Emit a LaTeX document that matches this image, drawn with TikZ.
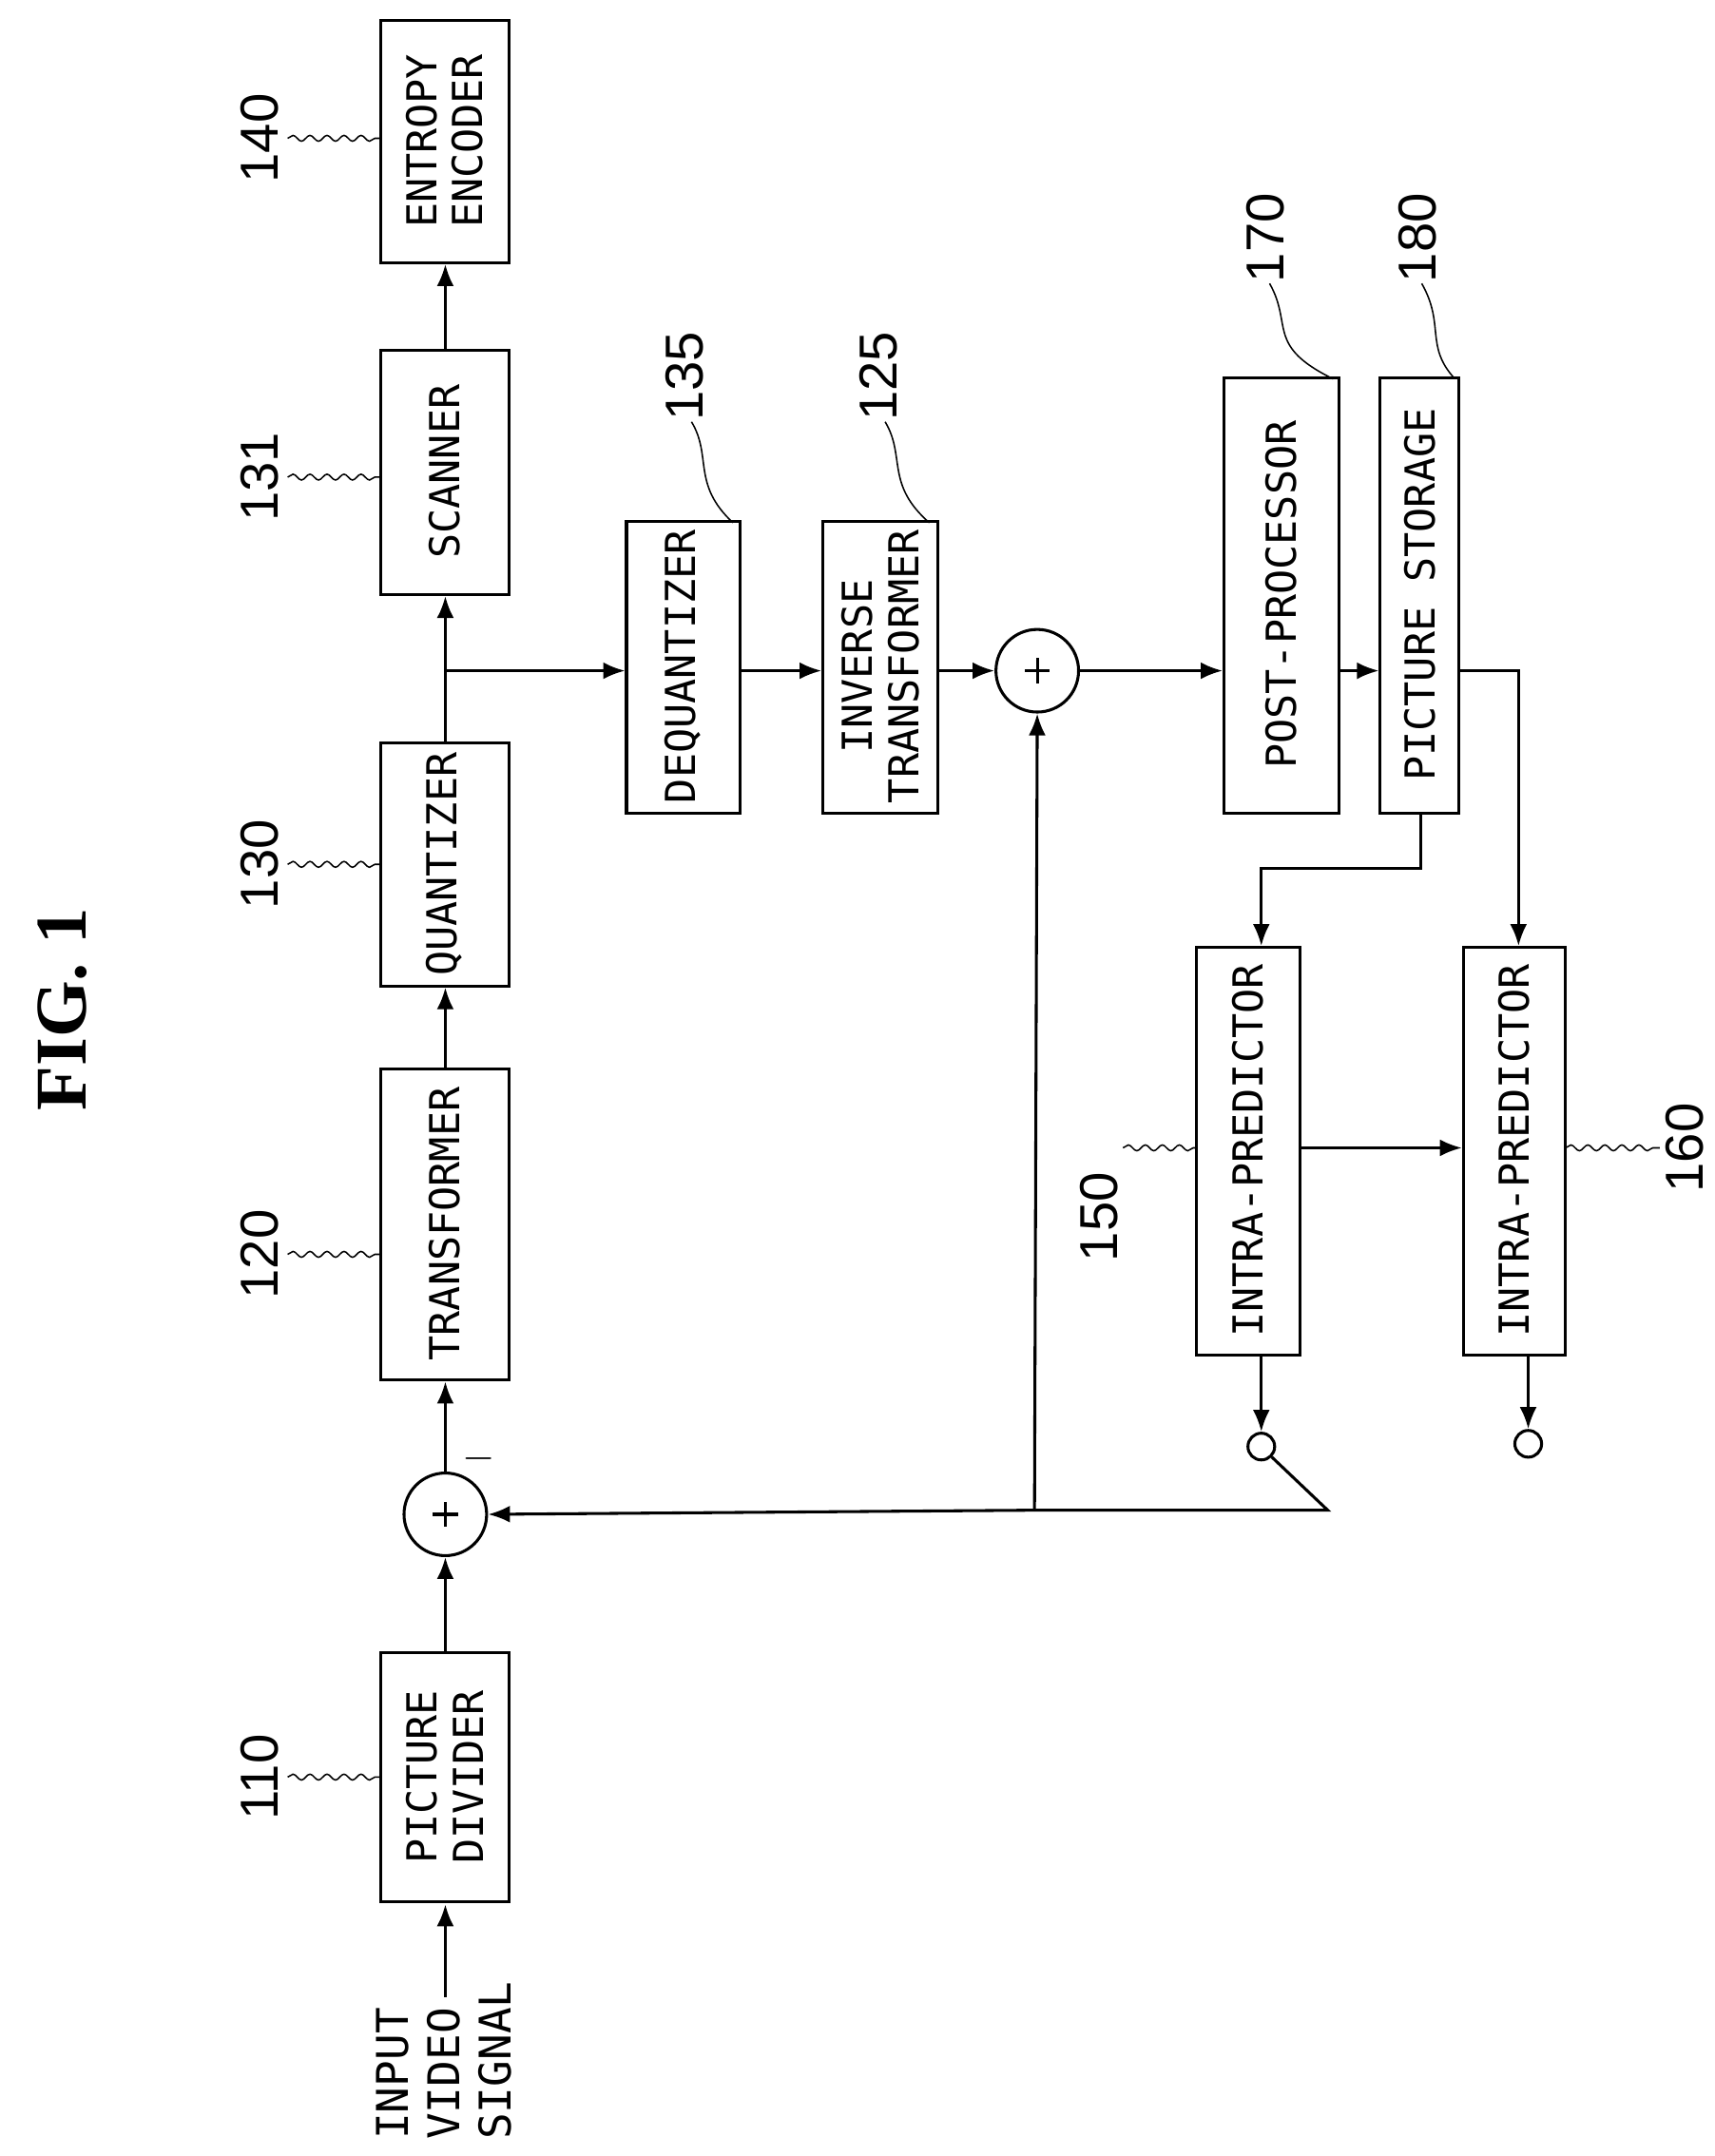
\documentclass[tikz,border=0pt]{standalone}
\usepackage{fontspec}
\setmainfont{DejaVu Sans Mono}
\newfontfamily\numfont{Liberation Sans}
\newfontfamily\figfont{Liberation Serif}
\usetikzlibrary{arrows.meta,decorations.pathmorphing}
\begin{document}
\begin{tikzpicture}[x=0.02cm,y=-0.02cm,line width=1.2pt,
 lab/.style={font=\fontsize{17}{19}\selectfont,rotate=90,align=center},
 num/.style={font=\numfont\fontsize{22}{24}\selectfont,rotate=90},
 ar/.style={-{Latex[length=9pt,width=7pt]}},
 lead/.style={line width=0.6pt,decorate,decoration={snake,amplitude=1.2pt,segment length=7pt}},
 curv/.style={line width=0.6pt}]
\useasboundingbox (0,0) rectangle (1240,1559);
\node[font=\figfont\bfseries\fontsize{30}{32}\selectfont,rotate=90] (fig) at (45,730) {FIG. 1};
% boxes
\draw (275,1195) rectangle (368,1375); \node[lab] (b110) at (321.5,1285) {PICTURE\\DIVIDER};
\draw (275,773) rectangle (368,998); \node[lab] (b120) at (321.5,885) {TRANSFORMER};
\draw (275,537) rectangle (368,713); \node[lab] (b130) at (321.5,625) {QUANTIZER};
\draw (275,253) rectangle (368,430); \node[lab] (b131) at (321.5,341) {SCANNER};
\draw (275,15) rectangle (368,190); \node[lab] (b140) at (321.5,102) {ENTROPY\\ENCODER};
\draw (453,377) rectangle (535,588); \node[lab] (b135) at (494,482) {DEQUANTIZER};
\draw (595,377) rectangle (678,588); \node[lab] (b125) at (636.5,482) {INVERSE\\TRANSFORMER};
\draw (885,273) rectangle (968,588); \node[lab] (b170) at (926.5,430) {POST-PROCESSOR};
\draw (998,273) rectangle (1055,588); \node[lab] (b180) at (1026.5,430) {PICTURE STORAGE};
\draw (865,685) rectangle (940,980); \node[lab] (b150) at (902.5,832) {INTRA-PREDICTOR};
\draw (1058,685) rectangle (1132,980); \node[lab] (b160) at (1095,832) {INTRA-PREDICTOR};
\node[lab,align=left,font=\fontsize{18}{21}\selectfont] (in) at (321,1490) {INPUT\\VIDEO\\SIGNAL};
% sums
\node[draw,circle,minimum size=34pt,inner sep=0] (s1) at (322,1095) {};
\draw (s1.center)++(-9,0)--++(18,0) (s1.center)++(0,-9)--++(0,18);
\node[draw,circle,minimum size=34pt,inner sep=0] (s2) at (750,485) {};
\draw (s2.center)++(-9,0)--++(18,0) (s2.center)++(0,-9)--++(0,18);
\node[font=\fontsize{18}{20}\selectfont] (minus) at (346,1055) {$-$};
% main flow
\draw[ar] (322,1444) -- (322,1377);
\draw[ar] (322,1195) -- (s1.south);
\draw[ar] (s1.north) -- (322,999);
\draw[ar] (322,773) -- (322,714);
\draw[ar] (322,537) -- (322,431);
\draw[ar] (322,253) -- (322,191);
\coordinate (br) at (322,485);
\draw[ar] (br) -- (452,485);
\draw[ar] (535,485) -- (594,485);
\draw[ar] (678,485) -- (s2.west);
\draw[ar] (s2.east) -- (884,485);
\draw[ar] (968,485) -- (997,485);
\draw[ar] (1055,485) -- (1098,485) -- (1098,684);
\draw[ar] (1027,588) -- (1027,628) -- (912,628) -- (912,684);
\draw[ar] (940,830) -- (1057,830);
\node[draw,circle,minimum size=11pt,inner sep=0] (c1) at (912,1046) {};
\node[draw,circle,minimum size=11pt,inner sep=0] (c2) at (1105,1044) {};
\draw[ar] (912,980) -- (c1.north);
\draw[ar] (1105,980) -- (c2.north);
\coordinate (sw) at (960,1092);
\coordinate (bb) at (748,1092);
\draw (c1.south east) -- (sw) -- (bb);
\draw[ar] (bb) -- (s1.east);
\draw[ar] (bb) -- (s2.south);
% labels
\node[num] (n110) at (188,1285) {110}; \draw[lead] (208,1285) -- (275,1285);
\node[num] (n120) at (188,907) {120}; \draw[lead] (208,907) -- (275,907);
\node[num] (n130) at (188,625) {130}; \draw[lead] (208,625) -- (275,625);
\node[num] (n131) at (188,345) {131}; \draw[lead] (208,345) -- (275,345);
\node[num] (n140) at (188,100) {140}; \draw[lead] (208,100) -- (275,100);
\node[num] (n135) at (495,272) {135}; \draw[curv] (500,305) .. controls (515,330) and (500,350) .. (530,378);
\node[num] (n125) at (635,272) {125}; \draw[curv] (640,305) .. controls (655,330) and (640,350) .. (672,378);
\node[num] (n170) at (915,172) {170}; \draw[curv] (918,205) .. controls (935,235) and (915,250) .. (964,274);
\node[num] (n180) at (1025,172) {180}; \draw[curv] (1028,205) .. controls (1045,235) and (1030,250) .. (1052,274);
\node[num] (n150) at (795,880) {150}; \draw[lead] (812,830) -- (865,830);
\node[num] (n160) at (1218,830) {160}; \draw[lead] (1132,830) -- (1200,830);
\end{tikzpicture}
\end{document}
